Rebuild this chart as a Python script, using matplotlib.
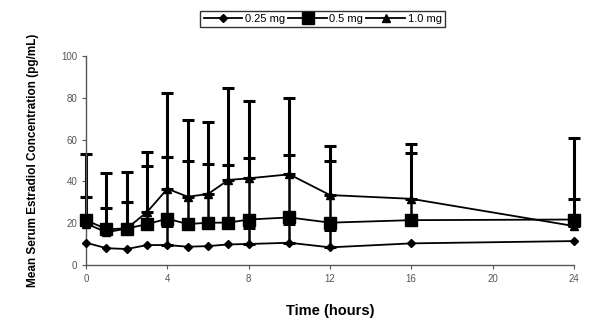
import numpy as np
import matplotlib
matplotlib.use('Agg')
import matplotlib.pyplot as plt

hours = [0, 1, 2, 3, 4, 5, 6, 7, 8, 10, 12, 16, 24]

mean_025 = [10.7, 8.1, 7.7, 9.6, 9.6, 8.8, 9.1, 9.9, 10.1, 10.7, 8.5, 10.4, 11.5]
mean_05 = [21.5, 17.2, 17.5, 19.6, 22.2, 19.6, 20.3, 20.3, 21.8, 22.8, 20.3, 21.5, 21.8]
mean_10 = [19.9, 15.7, 17.5, 25.4, 36.5, 32.7, 34.0, 40.7, 41.5, 43.4, 33.5, 31.7, 18.7]

# tops of the (upper only) error bars
upper_025 = [None, None, None, None, 18.7, None, None, None, 17.8, 19.5, 16.7, None, None]
upper_05 = [32.4, 27.4, 30.1, 47.4, 51.8, 49.9, 48.5, 47.7, 51.2, 52.5, 49.8, 53.4, 31.7]
upper_10 = [53.1, 44.2, 44.7, 54.2, 82.1, 69.4, 68.6, 84.5, 78.6, 80.1, 56.9, 57.9, 60.6]

labels = ['0.25 mg', '0.5 mg', '1.0 mg']

plt.rcParams['font.family'] = ['Liberation Sans', 'DejaVu Sans']

fig = plt.figure(figsize=(5.94, 3.31), dpi=100)
ax = fig.add_axes([0.145, 0.199, 0.821, 0.632])


def up_err(mean, upper):
    x, m, e = [], [], []
    for h, a, b in zip(hours, mean, upper):
        if b is not None:
            x.append(h)
            m.append(a)
            e.append(b - a)
    return np.array(x), np.array(m), np.array([np.zeros(len(e)), e])


for mean, upper, lw in [(mean_10, upper_10, 2.2), (mean_05, upper_05, 1.8), (mean_025, upper_025, 1.8)]:
    x, m, err = up_err(mean, upper)
    eb = ax.errorbar(x, m, yerr=err, fmt='none', ecolor='black', elinewidth=lw,
                     capsize=4, capthick=2.2, zorder=2)
    for art in eb.lines[1] + eb.lines[2]:
        art.set_clip_on(False)

h1, = ax.plot(hours, mean_025, '-', color='black', lw=1.3, marker='D', ms=4, label=labels[0], zorder=3, clip_on=False)
h2, = ax.plot(hours, mean_05, '-', color='black', lw=1.3, marker='s', ms=8, label=labels[1], zorder=3, clip_on=False)
h3, = ax.plot(hours, mean_10, '-', color='black', lw=1.3, marker='^', ms=6, label=labels[2], zorder=3, clip_on=False)

ax.set_xlim(0, 24)
ax.set_ylim(0, 100)
ax.set_xticks([0, 4, 8, 12, 16, 20, 24])
ax.set_yticks([0, 20, 40, 60, 80, 100])
for s in ['top', 'right']:
    ax.spines[s].set_visible(False)
for s in ['left', 'bottom']:
    ax.spines[s].set_color('#555555')
    ax.spines[s].set_linewidth(1)
ax.tick_params(axis='both', labelsize=7, colors='#555555', length=3, width=0.8)

ax.set_xlabel('Time (hours)', fontsize=10.5, fontweight='bold', labelpad=14)
ax.set_ylabel('Mean Serum Estradiol Concentration (pg/mL)', fontsize=8.5, fontweight='bold', labelpad=16)

leg = fig.legend(handles=[h1, h2, h3], loc='upper center', bbox_to_anchor=(0.543, 0.985),
                 ncol=3, fontsize=8, frameon=True, fancybox=False, edgecolor='black',
                 handlelength=3.5, handletextpad=0.2, columnspacing=0.3, borderpad=0.3)
leg.get_frame().set_linewidth(1)

fig.savefig('out.png', dpi=100)
